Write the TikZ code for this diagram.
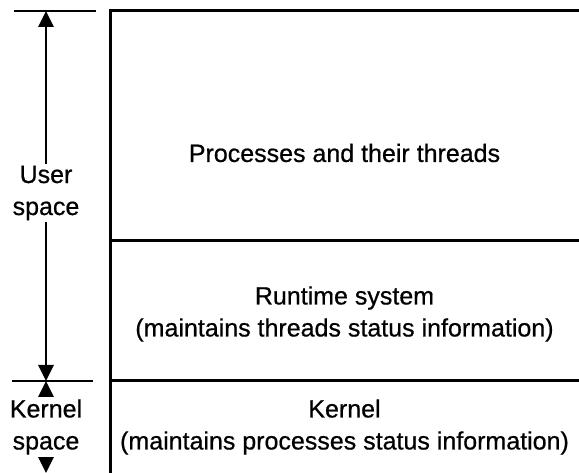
\documentclass[tikz,border=0pt]{standalone}
\usepackage{fontspec}
\setmainfont{Liberation Sans}
\newfontfamily\scanfont{Liberation Sans}[BoldFont=Liberation Sans, BoldFeatures={FakeBold=0.6}]
\usepackage{xcolor}
\usetikzlibrary{arrows.meta, positioning}

\tikzset{
  layerline/.style={black, line width=3pt},
  tickline/.style={black, line width=2.8pt},
  spanarrow/.style={{Triangle[length=16pt, width=15pt]}-{Triangle[length=16pt, width=15pt]}, black, line width=2.8pt},
  layertext/.style={font=\scanfont\bfseries\fontsize{25}{32}\selectfont, align=center, inner sep=0pt},
  sidetext/.style={font=\scanfont\bfseries\fontsize{25}{32}\selectfont, align=center, fill=white, inner sep=2pt}
}

\begin{document}
\begin{tikzpicture}[x=1pt, y=-1pt]
\useasboundingbox (0,0) rectangle (579,473);

% === Layer box (right) ===
\coordinate (boxtl) at (110,11);
\coordinate (boxtr) at (579,11);
\coordinate (boxbl) at (110,473);
\coordinate (rtl) at (110,241);
\coordinate (rtr) at (579,241);
\coordinate (knl) at (110,381);
\coordinate (knr) at (579,381);

\draw[layerline] (boxbl) -- (boxtl) -- (boxtr);
\draw[layerline] (rtl) -- (rtr);
\draw[layerline] (knl) -- (knr);

% Layer texts
\node[layertext] (procs) at (344.5,153) {Processes and their threads};
\node[layertext] (runtime) at (344.5,314) {Runtime system\\(maintains threads status information)};
\node[layertext] (kernel) at (344.5,427) {Kernel\\(maintains processes status information)};

% === Space markers (left) ===
\coordinate (toptickl) at (14,11);
\coordinate (toptickr) at (96,11);
\coordinate (midtickl) at (12,381);
\coordinate (midtickr) at (93,381);
\draw[tickline] (toptickl) -- (toptickr);
\draw[tickline] (midtickl) -- (midtickr);

% User space span
\coordinate (usertop) at (46,11);
\coordinate (userbot) at (46,381);
\draw[spanarrow] (usertop) -- (userbot);
\node[sidetext] (user) at (46,193) {User\\space};

% Kernel space span
\coordinate (kerntop) at (46,381);
\coordinate (kernbot) at (46,473);
\draw[spanarrow] (kerntop) -- (kernbot);
\node[sidetext] (kspace) at (46,427) {Kernel\\space};

\end{tikzpicture}
\end{document}
